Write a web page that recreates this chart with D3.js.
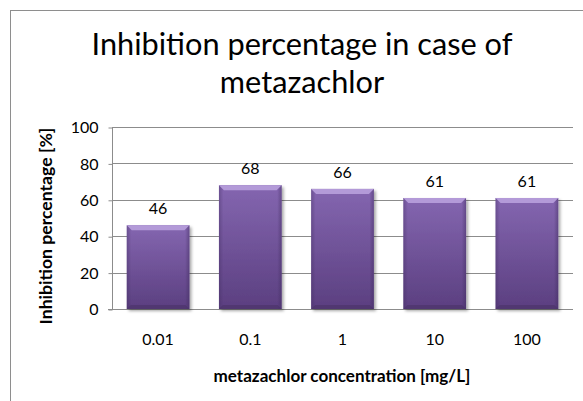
<!DOCTYPE html>
<html>
<head>
<meta charset="utf-8">
<script src="https://cdn.jsdelivr.net/npm/d3@7"></script>
<style>
  html, body { margin: 0; padding: 0; background: #fff; }
  svg { display: block; font-family: Lato, "Open Sans", sans-serif; }
</style>
</head>
<body>
<svg id="chart" width="583" height="401"></svg>
<script>
const categories = ["0.01", "0.1", "1", "10", "100"];
const values = [46, 68, 66, 61, 61];
const labels = ["46", "68", "66", "61", "61"];
const yTicks = [0, 20, 40, 60, 80, 100];
const titleLines = ["Inhibition percentage in case of", "metazachlor"];
const xTitle = "metazachlor concentration [mg/L]";
const yTitle = "Inhibition percentage [%]";

const svg = d3.select("#chart");
const plot = { left: 112, right: 573, top: 127, bottom: 309 };

// frame
svg.append("rect").attr("x", 10.5).attr("y", 10.5).attr("width", 700).attr("height", 700)
  .attr("fill", "#fff").attr("stroke", "#8e8e8e").attr("stroke-width", 1);

const defs = svg.append("defs");
const gBody = defs.append("linearGradient").attr("id", "body").attr("x1", 0).attr("y1", 0).attr("x2", 0).attr("y2", 1);
gBody.append("stop").attr("offset", "0%").attr("stop-color", "#8466b0");
gBody.append("stop").attr("offset", "100%").attr("stop-color", "#5b3f80");
const gSide = defs.append("linearGradient").attr("id", "side").attr("x1", 0).attr("y1", 0).attr("x2", 1).attr("y2", 0);
gSide.append("stop").attr("offset", "0%").attr("stop-color", "#3e2a5c").attr("stop-opacity", 0.35);
gSide.append("stop").attr("offset", "7%").attr("stop-color", "#3e2a5c").attr("stop-opacity", 0);
gSide.append("stop").attr("offset", "93%").attr("stop-color", "#3e2a5c").attr("stop-opacity", 0);
gSide.append("stop").attr("offset", "100%").attr("stop-color", "#3e2a5c").attr("stop-opacity", 0.45);
const shadow = defs.append("filter").attr("id", "shadow").attr("x", "-20%").attr("y", "-20%").attr("width", "150%").attr("height", "150%");
shadow.append("feDropShadow").attr("dx", 2).attr("dy", 2).attr("stdDeviation", 1.5)
  .attr("flood-color", "#000").attr("flood-opacity", 0.35);

const x = d3.scaleBand().domain(categories).range([plot.left, plot.right]).paddingInner(0.32).paddingOuter(0.16);
const y = d3.scaleLinear().domain([0, 100]).range([plot.bottom, plot.top]);

// gridlines
svg.append("g").selectAll("line").data(yTicks.filter(t => t > 0)).join("line")
  .attr("x1", plot.left).attr("x2", plot.right)
  .attr("y1", d => Math.round(y(d)) + 0.5).attr("y2", d => Math.round(y(d)) + 0.5)
  .attr("stroke", "#8c8c8c").attr("stroke-width", 1);

// y axis
const yAxis = d3.axisLeft(y).tickValues(yTicks).tickSize(4).tickPadding(10);
const ya = svg.append("g").attr("transform", `translate(${plot.left + 0.5},0.5)`).call(yAxis);
ya.select(".domain").attr("stroke", "#8c8c8c").attr("d", `M0,${plot.top - 0.5}V${plot.bottom}`);
ya.selectAll(".tick line").attr("stroke", "#8c8c8c");
ya.selectAll(".tick text").attr("font-family", "Lato, sans-serif").attr("font-size", 16).attr("fill", "#000");

// x axis
const xAxis = d3.axisBottom(x).tickSize(0).tickPadding(24);
const xa = svg.append("g").attr("transform", `translate(0,${Math.round(plot.bottom) + 0.5})`).call(xAxis);
xa.select(".domain").attr("stroke", "#8c8c8c").attr("d", `M${plot.left - 4},0H${plot.right}`);
xa.selectAll(".tick text").attr("font-family", "Lato, sans-serif").attr("font-size", 16).attr("fill", "#000");

// bars
const bars = svg.append("g").selectAll("g").data(values).join("g");
bars.append("rect")
  .attr("x", (d, i) => x(categories[i])).attr("y", d => y(d))
  .attr("width", x.bandwidth()).attr("height", d => y(0) - y(d))
  .attr("fill", "url(#body)").attr("filter", "url(#shadow)");
bars.append("rect")
  .attr("x", (d, i) => x(categories[i])).attr("y", d => y(d))
  .attr("width", x.bandwidth()).attr("height", d => y(0) - y(d))
  .attr("fill", "url(#side)");
bars.append("path")
  .attr("d", (d, i) => {
    const x0 = x(categories[i]), x1 = x0 + x.bandwidth(), t = y(d);
    return `M${x0},${t}L${x1},${t}L${x1 - 5},${t + 5}L${x0 + 5},${t + 5}Z`;
  })
  .attr("fill", "#b39ad8");
bars.append("path")
  .attr("d", (d, i) => {
    const x0 = x(categories[i]), x1 = x0 + x.bandwidth(), b = y(0);
    return `M${x0},${b}L${x1},${b}L${x1 - 4},${b - 4}L${x0 + 4},${b - 4}Z`;
  })
  .attr("fill", "#4a3268").attr("opacity", 0.6);

// value labels
svg.append("g").selectAll("text").data(values).join("text")
  .attr("x", (d, i) => x(categories[i]) + x.bandwidth() / 2)
  .attr("y", d => y(d) - 11)
  .attr("text-anchor", "middle")
  .attr("font-family", "Lato, sans-serif").attr("font-size", 16).attr("fill", "#000")
  .text((d, i) => labels[i]);

function fitFont(sel, base, target) {
  const w = sel.node().getComputedTextLength();
  sel.attr("font-size", base * target / w);
}

// title
const tl = svg.append("g").selectAll("text").data(titleLines).join("text")
  .attr("x", 302).attr("y", (d, i) => 55 + i * 38)
  .attr("text-anchor", "middle")
  .attr("font-family", "Lato, sans-serif").attr("font-size", 30).attr("fill", "#000")
  .text(d => d);
const w0 = tl.nodes()[0].getComputedTextLength();
tl.attr("font-size", 30 * 421 / w0);

// axis titles
const xt = svg.append("text").attr("x", 342).attr("y", 382).attr("text-anchor", "middle")
  .attr("font-family", "Lato, sans-serif").attr("font-weight", "bold").attr("font-size", 14).attr("fill", "#000")
  .text(xTitle);
fitFont(xt, 14, 257);
const yt = svg.append("text").attr("transform", "translate(52,226) rotate(-90)").attr("text-anchor", "middle")
  .attr("font-family", "Lato, sans-serif").attr("font-weight", "bold").attr("font-size", 14).attr("fill", "#000")
  .text(yTitle);
fitFont(yt, 14, 197);
</script>
</body>
</html>
